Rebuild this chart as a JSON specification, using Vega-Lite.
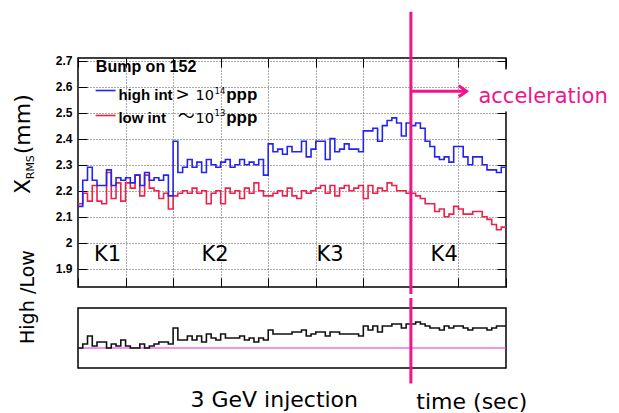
{
  "$schema": "https://vega.github.io/schema/vega-lite/v6.json",
  "background": "white",
  "padding": {"left": 11, "top": 10, "right": 0, "bottom": 0},
  "config": {
    "view": {"stroke": "#000", "strokeWidth": 1.5},
    "axis": {"domain": false, "tickColor": "#000", "tickWidth": 1, "gridColor": "#555", "gridDash": [1, 2], "gridWidth": 1, "labelFont": "Liberation Sans", "labelFontWeight": "bold", "labelFontSize": 12, "labelColor": "#000"}
  },
  "data": {"values": [
    {"t":0,"high":2.14,"low":2.15,"ratio":1.0},{"t":2,"high":2.24,"low":2.19,"ratio":1.02},{"t":4,"high":2.29,"low":2.16,"ratio":1.06},{"t":6,"high":2.24,"low":2.22,"ratio":1.01},{"t":8,"high":2.22,"low":2.16,"ratio":1.03},
    {"t":10,"high":2.22,"low":2.15,"ratio":1.03},{"t":12,"high":2.28,"low":2.27,"ratio":1.0},{"t":14,"high":2.22,"low":2.17,"ratio":1.02},{"t":16,"high":2.25,"low":2.23,"ratio":1.01},{"t":18,"high":2.24,"low":2.16,"ratio":1.04},
    {"t":20,"high":2.25,"low":2.23,"ratio":1.01},{"t":22,"high":2.23,"low":2.21,"ratio":1.0},{"t":24,"high":2.26,"low":2.26,"ratio":1.0},{"t":26,"high":2.22,"low":2.18,"ratio":1.02},{"t":28,"high":2.27,"low":2.26,"ratio":1.0},
    {"t":30,"high":2.24,"low":2.21,"ratio":1.01},{"t":32,"high":2.25,"low":2.2,"ratio":1.02},{"t":34,"high":2.24,"low":2.17,"ratio":1.03},{"t":36,"high":2.26,"low":2.19,"ratio":1.03},{"t":38,"high":2.18,"low":2.13,"ratio":1.02},
    {"t":40,"high":2.39,"low":2.18,"ratio":1.1},{"t":42,"high":2.27,"low":2.19,"ratio":1.04},{"t":44,"high":2.29,"low":2.2,"ratio":1.04},{"t":46,"high":2.32,"low":2.19,"ratio":1.06},{"t":48,"high":2.29,"low":2.21,"ratio":1.04},
    {"t":50,"high":2.31,"low":2.19,"ratio":1.06},{"t":52,"high":2.27,"low":2.2,"ratio":1.03},{"t":54,"high":2.32,"low":2.15,"ratio":1.07},{"t":56,"high":2.3,"low":2.19,"ratio":1.05},{"t":58,"high":2.29,"low":2.2,"ratio":1.04},
    {"t":60,"high":2.31,"low":2.15,"ratio":1.07},{"t":62,"high":2.32,"low":2.21,"ratio":1.05},{"t":64,"high":2.29,"low":2.19,"ratio":1.05},{"t":66,"high":2.3,"low":2.2,"ratio":1.05},{"t":68,"high":2.32,"low":2.17,"ratio":1.06},
    {"t":70,"high":2.3,"low":2.21,"ratio":1.04},{"t":72,"high":2.31,"low":2.19,"ratio":1.05},{"t":74,"high":2.3,"low":2.23,"ratio":1.03},{"t":76,"high":2.32,"low":2.2,"ratio":1.05},{"t":78,"high":2.26,"low":2.18,"ratio":1.04},
    {"t":80,"high":2.38,"low":2.18,"ratio":1.09},{"t":82,"high":2.35,"low":2.19,"ratio":1.07},{"t":84,"high":2.36,"low":2.2,"ratio":1.07},{"t":86,"high":2.34,"low":2.18,"ratio":1.07},{"t":88,"high":2.37,"low":2.21,"ratio":1.07},
    {"t":90,"high":2.35,"low":2.18,"ratio":1.08},{"t":92,"high":2.35,"low":2.17,"ratio":1.08},{"t":94,"high":2.39,"low":2.2,"ratio":1.09},{"t":96,"high":2.33,"low":2.19,"ratio":1.06},{"t":98,"high":2.36,"low":2.2,"ratio":1.07},
    {"t":100,"high":2.39,"low":2.21,"ratio":1.08},{"t":102,"high":2.39,"low":2.22,"ratio":1.08},{"t":104,"high":2.32,"low":2.19,"ratio":1.06},{"t":106,"high":2.4,"low":2.22,"ratio":1.08},{"t":108,"high":2.35,"low":2.18,"ratio":1.08},
    {"t":110,"high":2.36,"low":2.21,"ratio":1.07},{"t":112,"high":2.38,"low":2.22,"ratio":1.07},{"t":114,"high":2.36,"low":2.2,"ratio":1.07},{"t":116,"high":2.36,"low":2.21,"ratio":1.07},{"t":118,"high":2.35,"low":2.22,"ratio":1.06},
    {"t":120,"high":2.43,"low":2.17,"ratio":1.11},{"t":122,"high":2.43,"low":2.22,"ratio":1.09},{"t":124,"high":2.44,"low":2.19,"ratio":1.11},{"t":126,"high":2.39,"low":2.21,"ratio":1.08},{"t":128,"high":2.45,"low":2.2,"ratio":1.11},
    {"t":130,"high":2.47,"low":2.23,"ratio":1.11},{"t":132,"high":2.48,"low":2.22,"ratio":1.12},{"t":134,"high":2.46,"low":2.2,"ratio":1.12},{"t":136,"high":2.41,"low":2.2,"ratio":1.1},{"t":138,"high":2.46,"low":2.19,"ratio":1.12},
    {"t":140,"high":2.45,"low":2.19,"ratio":1.12},{"t":142,"high":2.46,"low":2.18,"ratio":1.13},{"t":144,"high":2.44,"low":2.17,"ratio":1.12},{"t":146,"high":2.39,"low":2.15,"ratio":1.11},{"t":148,"high":2.37,"low":2.15,"ratio":1.1},
    {"t":150,"high":2.33,"low":2.12,"ratio":1.1},{"t":152,"high":2.32,"low":2.13,"ratio":1.09},{"t":154,"high":2.33,"low":2.1,"ratio":1.11},{"t":156,"high":2.31,"low":2.11,"ratio":1.1},{"t":158,"high":2.37,"low":2.14,"ratio":1.11},
    {"t":160,"high":2.37,"low":2.13,"ratio":1.11},{"t":162,"high":2.33,"low":2.11,"ratio":1.1},{"t":164,"high":2.3,"low":2.11,"ratio":1.09},{"t":166,"high":2.33,"low":2.12,"ratio":1.1},{"t":168,"high":2.33,"low":2.12,"ratio":1.1},
    {"t":170,"high":2.3,"low":2.1,"ratio":1.1},{"t":172,"high":2.28,"low":2.09,"ratio":1.09},{"t":174,"high":2.28,"low":2.07,"ratio":1.1},{"t":176,"high":2.27,"low":2.05,"ratio":1.11},{"t":178,"high":2.29,"low":2.06,"ratio":1.11},
    {"t":180,"high":2.29,"low":2.06,"ratio":1.11}
  ]},
  "spacing": 0,
  "vconcat": [
    {
      "width": 428,
      "height": 229,
      "resolve": {"axis": {"x": "independent", "y": "independent"}},
      "layer": [
        {
          "mark": {"type": "line", "interpolate": "step-after", "color": "#f0204a", "strokeWidth": 1.6},
          "encoding": {
            "x": {"field": "t", "type": "quantitative", "scale": {"domain": [0, 180], "nice": false, "zero": false},
                  "axis": {"orient": "bottom", "values": [0,20,40,60,80,100,120,140,160,180], "labels": false, "tickSize": -9, "grid": true, "title": null}},
            "y": {"field": "low", "type": "quantitative", "scale": {"domain": [1.83, 2.71], "nice": false, "zero": false},
                  "axis": {"orient": "left", "values": [1.9,2,2.1,2.2,2.3,2.4,2.5,2.6,2.7], "format": "~g", "tickSize": -9, "labelPadding": 15, "grid": true, "title": null}}
          }
        },
        {
          "mark": {"type": "line", "interpolate": "step-after", "color": "#2424f2", "strokeWidth": 1.6},
          "encoding": {
            "x": {"field": "t", "type": "quantitative",
                  "axis": {"orient": "top", "values": [0,20,40,60,80,100,120,140,160,180], "labels": false, "tickSize": -9, "grid": false, "title": null}},
            "y": {"field": "high", "type": "quantitative",
                  "axis": {"orient": "right", "values": [1.9,2,2.1,2.2,2.3,2.4,2.5,2.6,2.7], "labels": false, "tickSize": -9, "grid": false, "title": null}}
          }
        },
        {
          "data": {"values": [{}]},
          "mark": {"type": "rule", "color": "#f0148c", "strokeWidth": 3, "strokeCap": "square", "clip": false},
          "encoding": {
            "x": {"datum": 140, "type": "quantitative", "axis": null},
            "y": {"datum": 2.882, "type": "quantitative", "axis": null},
            "y2": {"datum": 1.809}
          }
        },
        {
          "data": {"values": [{}]},
          "mark": {"type": "rule", "color": "#2424f2", "strokeWidth": 1.6, "clip": false},
          "encoding": {
            "x": {"datum": 7.4, "type": "quantitative", "axis": null},
            "x2": {"datum": 15.8},
            "y": {"datum": 2.585, "type": "quantitative", "axis": null}
          }
        },
        {
          "data": {"values": [{}]},
          "mark": {"type": "rule", "color": "#f0204a", "strokeWidth": 1.6, "clip": false},
          "encoding": {
            "x": {"datum": 7.4, "type": "quantitative", "axis": null},
            "x2": {"datum": 15.8},
            "y": {"datum": 2.489, "type": "quantitative", "axis": null}
          }
        },
        {
          "data": {"values": [{}]},
          "mark": {"type": "rule", "color": "white", "strokeWidth": 42, "clip": false},
          "encoding": {
            "x": {"datum": 164.5, "type": "quantitative", "axis": null},
            "x2": {"datum": 226},
            "y": {"datum": 2.585, "type": "quantitative", "axis": null}
          }
        },
        {
          "data": {"values": [{}]},
          "mark": {"type": "rule", "color": "#f0148c", "strokeWidth": 3, "clip": false},
          "encoding": {
            "x": {"datum": 140, "type": "quantitative", "axis": null},
            "x2": {"datum": 163},
            "y": {"datum": 2.582, "type": "quantitative", "axis": null}
          }
        },
        {
          "data": {"values": [{}]},
          "mark": {"type": "point", "shape": "M-1.4,-1L0,0L-1.4,1", "filled": false, "color": "#f0148c", "strokeWidth": 3, "size": 121, "opacity": 1, "clip": false},
          "encoding": {
            "x": {"datum": 163.4, "type": "quantitative", "axis": null},
            "y": {"datum": 2.582, "type": "quantitative", "axis": null}
          }
        },
        {
          "data": {"values": [{}]},
          "mark": {"type": "text", "text": "acceleration", "align": "left", "baseline": "alphabetic", "font": "DejaVu Sans", "fontSize": 21, "color": "#f0148c", "clip": false},
          "encoding": {
            "x": {"datum": 168.4, "type": "quantitative", "axis": null},
            "y": {"datum": 2.538, "type": "quantitative", "axis": null}
          }
        },
        {
          "data": {"values": [{}]},
          "mark": {"type": "text", "text": "Bump on 152", "align": "left", "baseline": "alphabetic", "font": "Liberation Sans", "fontWeight": "bold", "fontSize": 16, "color": "#000"},
          "encoding": {
            "x": {"datum": 7.5, "type": "quantitative", "axis": null},
            "y": {"datum": 2.657, "type": "quantitative", "axis": null}
          }
        },
        {
          "data": {"values": [{}]},
          "mark": {"type": "text", "text": "high int", "align": "left", "baseline": "alphabetic", "font": "Liberation Sans", "fontWeight": "bold", "fontSize": 15, "color": "#000"},
          "encoding": {
            "x": {"datum": 17.0, "type": "quantitative", "axis": null},
            "y": {"datum": 2.547, "type": "quantitative", "axis": null}
          }
        },
        {
          "data": {"values": [{}]},
          "mark": {"type": "text", "text": ">", "align": "left", "baseline": "alphabetic", "font": "DejaVu Sans", "fontSize": 17, "color": "#000"},
          "encoding": {
            "x": {"datum": 41.0, "type": "quantitative", "axis": null},
            "y": {"datum": 2.547, "type": "quantitative", "axis": null}
          }
        },
        {
          "data": {"values": [{"s": "10", "t": 49.4, "v": 2.547}, {"s": "10", "t": 49.4, "v": 2.461}]},
          "mark": {"type": "text", "align": "left", "baseline": "alphabetic", "font": "DejaVu Sans", "fontSize": 14.5, "color": "#000"},
          "encoding": {
            "x": {"field": "t", "type": "quantitative", "axis": null},
            "y": {"field": "v", "type": "quantitative", "axis": null},
            "text": {"field": "s"}
          }
        },
        {
          "data": {"values": [{"s": "14", "v": 2.571}, {"s": "13", "v": 2.486}]},
          "mark": {"type": "text", "align": "left", "baseline": "alphabetic", "font": "DejaVu Sans", "fontSize": 8.5, "color": "#000"},
          "encoding": {
            "x": {"datum": 57.4, "type": "quantitative", "axis": null},
            "y": {"field": "v", "type": "quantitative", "axis": null},
            "text": {"field": "s"}
          }
        },
        {
          "data": {"values": [{"v": 2.547}, {"v": 2.461}]},
          "mark": {"type": "text", "text": "ppp", "align": "left", "baseline": "alphabetic", "font": "Liberation Sans", "fontWeight": "bold", "fontSize": 17, "color": "#000"},
          "encoding": {
            "x": {"datum": 62.3, "type": "quantitative", "axis": null},
            "y": {"field": "v", "type": "quantitative", "axis": null}
          }
        },
        {
          "data": {"values": [{}]},
          "mark": {"type": "text", "text": "low int", "align": "left", "baseline": "alphabetic", "font": "Liberation Sans", "fontWeight": "bold", "fontSize": 15, "color": "#000"},
          "encoding": {
            "x": {"datum": 17.0, "type": "quantitative", "axis": null},
            "y": {"datum": 2.461, "type": "quantitative", "axis": null}
          }
        },
        {
          "data": {"values": [{}]},
          "mark": {"type": "text", "text": "〜", "align": "left", "baseline": "middle", "font": "Noto Sans CJK JP", "fontSize": 17, "color": "#000"},
          "encoding": {
            "x": {"datum": 42.0, "type": "quantitative", "axis": null},
            "y": {"datum": 2.483, "type": "quantitative", "axis": null}
          }
        },
        {
          "data": {"values": [{"k": "K1", "t": 12.4}, {"k": "K2", "t": 57.6}, {"k": "K3", "t": 106}, {"k": "K4", "t": 154}]},
          "mark": {"type": "text", "align": "center", "baseline": "alphabetic", "font": "DejaVu Sans", "fontSize": 21, "color": "#000"},
          "encoding": {
            "x": {"field": "t", "type": "quantitative", "axis": null},
            "y": {"datum": 1.93, "type": "quantitative", "axis": null},
            "text": {"field": "k"}
          }
        },
        {
          "data": {"values": [{"s": "X", "t": -20.0, "v": 2.187}, {"s": "(mm)", "t": -20.0, "v": 2.34}]},
          "mark": {"type": "text", "angle": 270, "align": "left", "baseline": "alphabetic", "font": "DejaVu Sans", "fontSize": 22, "color": "#000", "clip": false},
          "encoding": {
            "x": {"field": "t", "type": "quantitative", "axis": null},
            "y": {"field": "v", "type": "quantitative", "axis": null},
            "text": {"field": "s"}
          }
        },
        {
          "data": {"values": [{}]},
          "mark": {"type": "text", "text": "RMS", "angle": 270, "align": "left", "baseline": "alphabetic", "font": "DejaVu Sans", "fontSize": 11, "color": "#000", "clip": false},
          "encoding": {
            "x": {"datum": -18.7, "type": "quantitative", "axis": null},
            "y": {"datum": 2.244, "type": "quantitative", "axis": null}
          }
        },
        {
          "data": {"values": [{}]},
          "mark": {"type": "text", "text": "/Low", "angle": 270, "align": "left", "baseline": "alphabetic", "font": "DejaVu Sans", "fontSize": 19, "color": "#000", "clip": false},
          "encoding": {
            "x": {"datum": -18.7, "type": "quantitative", "axis": null},
            "y": {"datum": 1.8034, "type": "quantitative", "axis": null}
          }
        }
      ]
    },
    {
      "width": 428,
      "height": 60,
      "layer": [
        {
          "data": {"values": [{}]},
          "mark": {"type": "rule", "color": "#e030e0", "strokeWidth": 1.2},
          "encoding": {
            "x": {"datum": 0, "type": "quantitative", "axis": null},
            "x2": {"datum": 180},
            "y": {"datum": 1, "type": "quantitative", "axis": null}
          }
        },
        {
          "mark": {"type": "line", "interpolate": "step-after", "color": "#111", "strokeWidth": 1.6},
          "encoding": {
            "x": {"field": "t", "type": "quantitative", "scale": {"domain": [0, 180], "nice": false, "zero": false},
                  "axis": {"orient": "bottom", "values": [0,20,40,60,80,100,120,140,160,180], "tickSize": -6, "labelPadding": 11, "grid": true, "title": null}},
            "y": {"field": "ratio", "type": "quantitative", "scale": {"domain": [0.9, 1.2], "nice": false, "zero": false},
                  "axis": {"orient": "left", "values": [0.9,1,1.1,1.2], "format": "~g", "labelOverlap": false, "tickSize": -9, "labelPadding": 12, "grid": true, "title": null}}
          }
        },
        {
          "data": {"values": [{}]},
          "mark": {"type": "rule", "color": "#f0148c", "strokeWidth": 3, "strokeCap": "square", "clip": false},
          "encoding": {
            "x": {"datum": 140, "type": "quantitative", "axis": null},
            "y": {"datum": 1.2425, "type": "quantitative", "axis": null},
            "y2": {"datum": 0.83}
          }
        },
        {
          "data": {"values": [{}]},
          "mark": {"type": "text", "text": "High", "angle": 270, "align": "left", "baseline": "alphabetic", "font": "DejaVu Sans", "fontSize": 19, "color": "#000", "clip": false},
          "encoding": {
            "x": {"datum": -18.7, "type": "quantitative", "axis": null},
            "y": {"datum": 1.02, "type": "quantitative", "axis": null}
          }
        },
        {
          "data": {"values": [{}]},
          "mark": {"type": "text", "text": "3 GeV injection", "align": "left", "baseline": "alphabetic", "font": "DejaVu Sans", "fontSize": 22, "color": "#000", "clip": false},
          "encoding": {
            "x": {"datum": 47.3, "type": "quantitative", "axis": null},
            "y": {"datum": 0.705, "type": "quantitative", "axis": null}
          }
        },
        {
          "data": {"values": [{}]},
          "mark": {"type": "text", "text": "time (sec)", "align": "left", "baseline": "alphabetic", "font": "DejaVu Sans", "fontSize": 22, "color": "#000", "clip": false},
          "encoding": {
            "x": {"datum": 142.3, "type": "quantitative", "axis": null},
            "y": {"datum": 0.695, "type": "quantitative", "axis": null}
          }
        }
      ]
    }
  ]
}
